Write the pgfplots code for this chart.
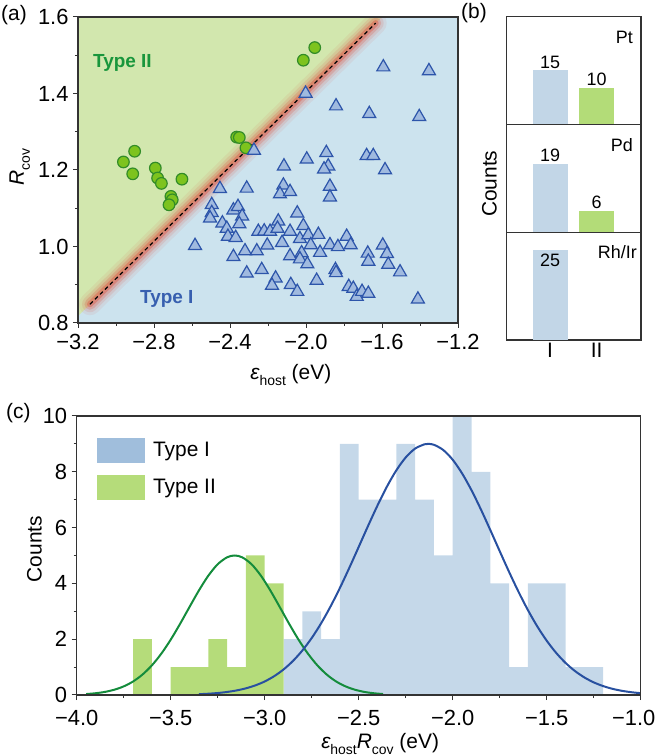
\documentclass[border=0pt]{standalone}
\usepackage{fontspec}
\setmainfont{Liberation Sans}
\usepackage{pgfplots}
\pgfplotsset{compat=1.18}

\definecolor{axcol}{HTML}{333333}
\definecolor{bgB}{HTML}{CCE3EE}
\definecolor{bgG}{HTML}{D2E7AE}
\definecolor{glow}{HTML}{DD5A48}
\definecolor{triF}{HTML}{A0BADF}
\definecolor{triE}{HTML}{2D55AA}
\definecolor{cirF}{HTML}{7DC31E}
\definecolor{cirE}{HTML}{328C28}
\definecolor{txtG}{HTML}{19963C}
\definecolor{txtB}{HTML}{375FAF}
\definecolor{barB}{HTML}{C2D6E7}
\definecolor{barG}{HTML}{B3DC78}
\definecolor{histB}{HTML}{C5D8E9}
\definecolor{histG}{HTML}{B5DC7A}
\definecolor{legB}{HTML}{A0BEDC}
\definecolor{fitG}{HTML}{148C3C}
\definecolor{fitB}{HTML}{2850A0}

\newcommand\fsT{\fontsize{21}{25}\selectfont}
\newcommand\fsK{\fontsize{22}{26}\selectfont}
\newcommand\fsB{\fontsize{18}{21}\selectfont}
\newcommand\fsL{\fontsize{19}{23}\selectfont\bfseries}
\newcommand\sub[1]{\raisebox{-0.28em}{\fontsize{14}{14}\selectfont #1}}

\pgfplotsset{
  /pgf/number format/assume math mode=true,
  panel/.style={
    scale only axis, axis on top,
    axis line style={line width=1.1bp, axcol},
    every tick/.style={line width=1bp, axcol},
    major tick length=5bp, minor tick length=3bp,
    tick align=outside, xtick pos=bottom, ytick pos=left,
    tick label style={font=\fsK},
    xticklabel style={yshift=-2.5bp},
    yticklabel style={xshift=-1bp},
    label style={font=\fsT},
  },
  panelb/.style={
    scale only axis, width=134.3bp, height=107.8bp,
    xmin=0.07, xmax=2.95, ymin=0, ymax=30,
    xtick=\empty, ytick=\empty,
    axis line style={line width=1.1bp, axcol},
    tick label style={font=\fsT},
    nodes near coords,
    nodes near coords style={font=\fsB, inner sep=2bp, text=black},
  },
}

\begin{document}
\begin{tikzpicture}
\useasboundingbox (0,0) rectangle (658bp,756bp);

% ---------------- (a) scatter ----------------
\begin{axis}[panel, at={(78bp,433bp)}, anchor=south west,
  width=380bp, height=306bp,
  xmin=-3.2, xmax=-1.2, ymin=0.8, ymax=1.6,
  axis background/.style={fill=bgB},
  xtick={-3.2,-2.8,-2.4,-2.0,-1.6,-1.2},
  xticklabels={−3.2,−2.8,−2.4,−2.0,−1.6,−1.2},
  minor xtick={-3.0,-2.6,-2.2,-1.8,-1.4},
  ytick={0.8,1.0,1.2,1.4,1.6},
  yticklabels={0.8,1.0,1.2,1.4,1.6},
  minor ytick={0.9,1.1,1.3,1.5},
  xlabel={{\itshape ε}\sub{host} (eV)},
  xlabel style={at={(axis description cs:0.56,0)}, anchor=north, inner sep=0pt, yshift=-41bp},
  ylabel={{\itshape R}\sub{cov}},
  ylabel style={at={(axis description cs:-0.126,0.51)}, anchor=south, inner sep=0pt},
]
% Type II region above the separating line
\addplot[fill=bgG, draw=none] coordinates {(-3.2,0.818) (-1.600,1.6) (-3.2,1.6)} --cycle;
% soft red band along the boundary
\addplot[glow, line width=22bp, opacity=0.09, line cap=round] coordinates {(-3.137,0.849) (-1.633,1.584)};
\addplot[glow, line width=16bp, opacity=0.14, line cap=round] coordinates {(-3.137,0.849) (-1.633,1.584)};
\addplot[glow, line width=11bp, opacity=0.25, line cap=round] coordinates {(-3.137,0.849) (-1.633,1.584)};
\addplot[glow, line width=6bp, opacity=0.45, line cap=round] coordinates {(-3.137,0.849) (-1.633,1.584)};
\addplot[black, line width=1.2bp, dash pattern=on 4bp off 3bp] coordinates {(-3.137,0.849) (-1.633,1.584)};

% Type II (circles)
\addplot[only marks, mark=*, mark size=5.8bp,
  mark options={fill=cirF, draw=cirE, line width=1.2bp}] table {
x y
-2.961 1.221
-2.902 1.249
-2.912 1.190
-2.793 1.205
-2.781 1.179
-2.761 1.165
-2.653 1.176
-2.711 1.131
-2.704 1.122
-2.721 1.109
-2.365 1.286
-2.351 1.285
-2.316 1.258
-2.014 1.487
-1.954 1.520
};

% Type I (triangles)
\addplot[only marks, mark=triangle*, mark size=7.5bp,
  mark options={fill=triF, draw=triE, line width=1.2bp}] table {
x y
-1.593 1.469
-1.353 1.459
-2.002 1.400
-1.842 1.367
-1.667 1.347
-1.404 1.339
-2.274 1.251
-1.996 1.228
-1.893 1.245
-1.883 1.210
-1.905 1.202
-1.681 1.237
-1.646 1.237
-1.584 1.200
-2.116 1.210
-2.119 1.160
-2.137 1.137
-2.084 1.143
-1.874 1.157
-1.874 1.129
-2.453 1.151
-2.312 1.152
-2.584 1.002
-2.496 1.109
-2.496 1.088
-2.505 1.074
-2.382 1.095
-2.358 1.104
-2.336 1.079
-2.351 1.059
-2.440 1.061
-2.417 1.047
-2.411 1.026
-2.370 1.023
-2.382 0.973
-2.321 0.988
-2.259 0.988
-2.312 0.930
-2.233 0.939
-2.251 1.039
-2.220 1.040
-2.189 1.039
-2.204 1.003
-2.146 1.066
-2.150 1.047
-2.126 1.010
-2.084 1.039
-2.046 1.087
-2.014 1.054
-2.032 1.020
-1.988 1.030
-2.084 0.975
-2.023 0.983
-2.032 0.967
-1.993 0.954
-1.935 1.031
-1.975 1.004
-1.926 0.984
-1.874 1.004
-1.832 0.999
-1.786 1.026
-1.765 1.004
-1.845 0.939
-1.842 0.931
-1.944 0.911
-2.160 0.917
-2.179 0.898
-2.080 0.900
-2.046 0.882
-1.775 0.895
-1.751 0.890
-1.733 0.869
-1.705 0.882
-1.672 0.877
-1.675 0.982
-1.672 0.961
-1.596 1.003
-1.574 0.981
-1.567 0.953
-1.505 0.933
-1.411 0.862
};

\node[anchor=base west, font=\fsL, text=txtG, inner sep=0pt] at (axis cs:-3.121,1.467) {Type II};
\node[anchor=base west, font=\fsL, text=txtB, inner sep=0pt] at (axis cs:-2.874,0.851) {Type I};
\end{axis}

% ---------------- (b) counts per metal ----------------
\begin{axis}[panelb, at={(506.7bp,631.7bp)}, anchor=south west]
\addplot[ybar, bar width=35bp, bar shift=0pt, fill=barB, draw=none] coordinates {(1,15)};
\addplot[ybar, bar width=35bp, bar shift=0pt, fill=barG, draw=none] coordinates {(2,10)};
\node[anchor=north east, font=\fsB, inner sep=0pt, xshift=-8bp, yshift=-14bp] at (rel axis cs:1,1) {Pt};
\end{axis}

\begin{axis}[panelb, at={(506.7bp,523.7bp)}, anchor=south west,
  ylabel={Counts},
  ylabel style={font=\fsT, at={(axis description cs:-0.072,0.45)}, anchor=south, inner sep=0pt}]
\addplot[ybar, bar width=35bp, bar shift=0pt, fill=barB, draw=none] coordinates {(1,19)};
\addplot[ybar, bar width=35bp, bar shift=0pt, fill=barG, draw=none] coordinates {(2,6)};
\node[anchor=north east, font=\fsB, inner sep=0pt, xshift=-8bp, yshift=-14bp] at (rel axis cs:1,1) {Pd};
\end{axis}

\begin{axis}[panelb, at={(506.7bp,416bp)}, anchor=south west,
  xtick={1,2}, xticklabels={I,II}, major tick length=0pt,
  nodes near coords style={font=\fsB, anchor=north, inner sep=4bp, text=black}]
\addplot[ybar, bar width=35bp, bar shift=0pt, fill=barB, draw=none] coordinates {(1,25)};
\node[anchor=north east, font=\fsB, inner sep=0pt, xshift=-4bp, yshift=-13bp] at (rel axis cs:1,1) {Rh/Ir};
\end{axis}

% ---------------- (c) histogram ----------------
\begin{axis}[panel, at={(76.7bp,61bp)}, anchor=south west,
  width=564bp, height=279bp,
  xmin=-4, xmax=-1, ymin=0, ymax=10,
  xtick={-4,-3.5,-3,-2.5,-2,-1.5,-1},
  xticklabels={−4.0,−3.5,−3.0,−2.5,−2.0,−1.5,\hspace*{-14bp}−1.0},
  xticklabel style={yshift=-4.5bp},
  minor xtick={-3.75,-3.25,-2.75,-2.25,-1.75,-1.25},
  ytick={0,2,4,6,8,10}, yticklabels={0,2,4,6,8,10},
  minor ytick={1,3,5,7,9},
  xlabel={{\itshape ε}\sub{host}{\itshape R}\sub{cov} (eV)},
  xlabel style={at={(axis description cs:0.538,0)}, anchor=north, inner sep=0pt, yshift=-38bp},
  ylabel={Counts},
  ylabel style={at={(axis description cs:-0.0615,0.523)}, anchor=south, inner sep=0pt},
  legend style={at={(axis description cs:0.035,0.921)}, anchor=north west,
    draw=none, fill=none, inner sep=0pt, row sep=12bp, font=\fsT,
    nodes={inner sep=0pt}},
  legend cell align=left,
]
\addlegendimage{legend image code/.code={\fill[legB] (0bp,-12bp) rectangle (47bp,12bp);}}
\addlegendentry{\hspace*{9bp}Type I}
\addlegendimage{legend image code/.code={\fill[histG] (0bp,-12bp) rectangle (47bp,12bp);}}
\addlegendentry{\hspace*{9bp}Type II}

\addplot[ybar interval, fill=histB, draw=none, forget plot] coordinates {
(-2.9,2) (-2.8,3) (-2.7,2) (-2.6,9) (-2.5,7) (-2.4,7) (-2.3,9) (-2.2,7)
(-2.1,5) (-2.0,10) (-1.9,8) (-1.8,4) (-1.7,1) (-1.6,4) (-1.5,4) (-1.4,1)
(-1.3,1) (-1.2,1)};
\addplot[ybar interval, fill=histG, draw=none, forget plot] coordinates {
(-3.7,2) (-3.6,0) (-3.5,1) (-3.4,1) (-3.3,2) (-3.2,1) (-3.1,5) (-3.0,4) (-2.9,4)};

% normal fits
\addplot[fitG, line width=2bp, smooth, forget plot] coordinates {
(-3.95,0.034) (-3.90,0.063) (-3.85,0.111) (-3.80,0.189) (-3.75,0.309)
(-3.70,0.485) (-3.65,0.733) (-3.60,1.063) (-3.55,1.481) (-3.50,1.983)
(-3.45,2.552) (-3.40,3.154) (-3.35,3.746) (-3.30,4.275) (-3.25,4.687)
(-3.20,4.936) (-3.16,5.000) (-3.12,4.936) (-3.07,4.687) (-3.02,4.275)
(-2.97,3.746) (-2.92,3.154) (-2.87,2.552) (-2.82,1.983) (-2.77,1.481)
(-2.72,1.063) (-2.67,0.733) (-2.62,0.485) (-2.57,0.309) (-2.52,0.189)
(-2.47,0.111) (-2.42,0.063) (-2.37,0.034)};
\addplot[fitB, line width=2bp, smooth, forget plot] coordinates {
(-3.35,0.029) (-3.30,0.046) (-3.25,0.071) (-3.20,0.109) (-3.15,0.163)
(-3.10,0.239) (-3.05,0.344) (-3.00,0.485) (-2.95,0.673) (-2.90,0.914)
(-2.85,1.218) (-2.80,1.593) (-2.75,2.042) (-2.70,2.569) (-2.65,3.171)
(-2.60,3.838) (-2.55,4.557) (-2.50,5.307) (-2.45,6.063) (-2.40,6.793)
(-2.35,7.467) (-2.30,8.051) (-2.25,8.514) (-2.20,8.832) (-2.15,8.986)
(-2.13,9.000) (-2.10,8.969) (-2.05,8.780) (-2.00,8.432) (-1.95,7.942)
(-1.90,7.339) (-1.85,6.651) (-1.80,5.913) (-1.75,5.156) (-1.70,4.410)
(-1.65,3.700) (-1.60,3.045) (-1.55,2.458) (-1.50,1.947) (-1.45,1.512)
(-1.40,1.152) (-1.35,0.861) (-1.30,0.631) (-1.25,0.453) (-1.20,0.320)
(-1.15,0.221) (-1.10,0.150) (-1.05,0.100) (-1.00,0.065)};
\end{axis}

% panel letters
\node[anchor=north west, inner sep=0pt, font=\fsT] at (1bp,751bp) {(a)};
\node[anchor=north west, inner sep=0pt, font=\fsT] at (461bp,753bp) {(b)};
\node[anchor=north west, inner sep=0pt, font=\fsT] at (6bp,353bp) {(c)};
\end{tikzpicture}
\end{document}
